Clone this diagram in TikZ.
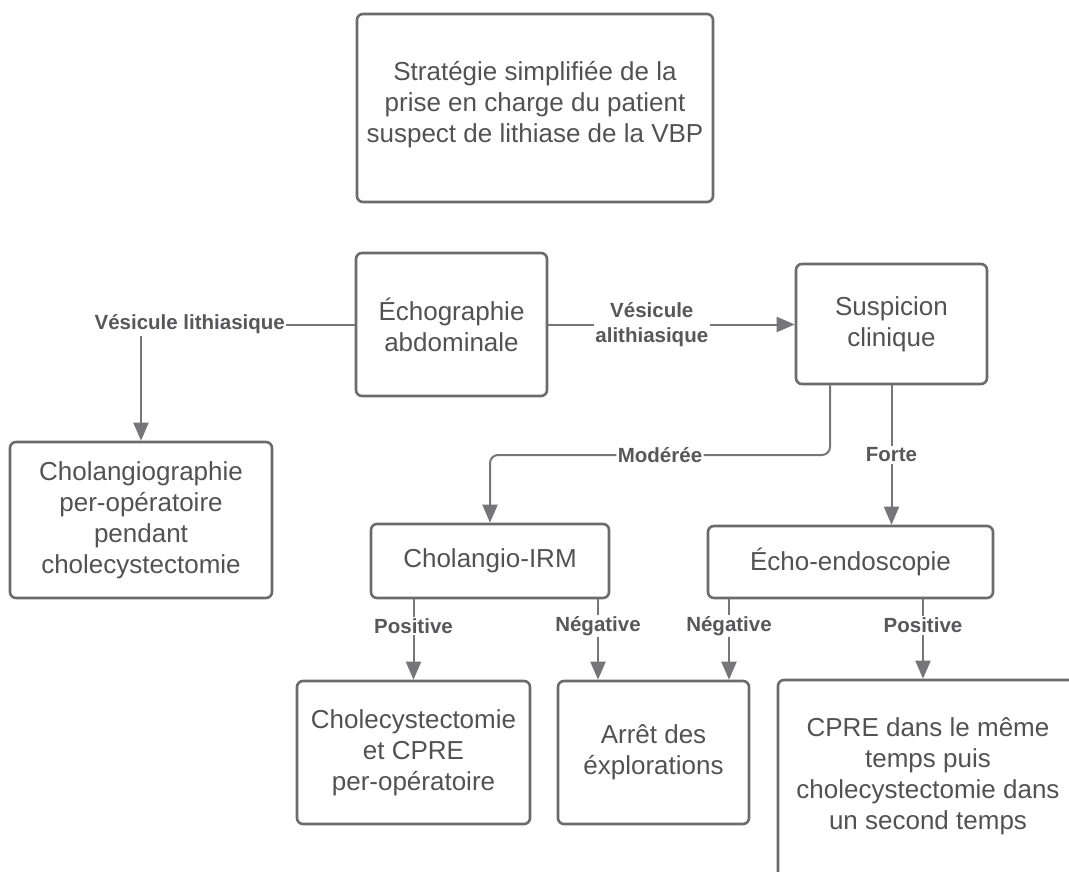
\documentclass[tikz,border=0pt]{standalone}
\usepackage{fontspec}
\setmainfont{Liberation Sans}
\usetikzlibrary{arrows.meta}
\definecolor{boxcol}{HTML}{6B6B6E}
\definecolor{linecol}{HTML}{76767A}
\definecolor{txtcol}{HTML}{525252}
\definecolor{lblcol}{HTML}{58585B}
\begin{document}
\begin{tikzpicture}[x=1pt,y=-1pt,
  box/.style={draw=boxcol, line width=2.6pt, rounded corners=6pt, align=center, inner sep=0pt, text=txtcol, font=\fontsize{26}{31}\selectfont},
  conn/.style={draw=linecol, line width=2pt},
  arr/.style={conn, -{Triangle[length=18pt,width=15pt]}},
  lbl/.style={fill=white, text=lblcol, font=\bfseries\fontsize{20.5}{25}\selectfont, inner sep=1.5pt, align=center}]
\useasboundingbox (0,0) rectangle (1069,872);
\clip (0,0) rectangle (1069,872);

\node[box, minimum width=356pt, minimum height=188pt, text depth=13pt] (title) at (535,108) {Stratégie simplifiée de la\\prise en charge du patient\\suspect de lithiase de la VBP};
\node[box, minimum width=191pt, minimum height=143pt] (echo) at (451.5,324.5) {Échographie\\abdominale};
\node[box, minimum width=191pt, minimum height=120pt] (susp) at (891.5,324) {Suspicion\\clinique};
\node[box, minimum width=262pt, minimum height=156pt] (cholgraph) at (141,520) {Cholangiographie\\per-opératoire\\pendant\\cholecystectomie};
\node[box, minimum width=238pt, minimum height=74pt] (irm) at (490,561) {Cholangio-IRM};
\node[box, minimum width=285pt, minimum height=72pt] (endo) at (850.5,562) {Écho-endoscopie};
\node[box, minimum width=233pt, minimum height=143pt] (chole) at (413.5,752.5) {Cholecystectomie\\et CPRE\\per-opératoire};
\node[box, minimum width=191pt, minimum height=143pt] (arret) at (653.5,752.5) {Arrêt des\\éxplorations};
\node[box, minimum width=300pt, minimum height=206pt, text depth=19pt] (cpre) at (928,783) {CPRE dans le même\\temps puis\\cholecystectomie dans\\un second temps};

\draw[arr] (echo.west) -| node[lbl,pos=0.386]{Vésicule lithiasique} (cholgraph.north);
\draw[arr] (echo.east) -- node[lbl,pos=0.42]{Vésicule\\alithiasique} (echo.east -| susp.west);

\coordinate (modY) at (0,455);
\coordinate (modS) at ([xshift=-61.5pt]susp.south);
\draw[arr, rounded corners=8pt] (modS) |- node[lbl,pos=0.75]{Modérée} (modY -| irm.north) -- (irm.north);
\draw[arr] (susp.south) -- node[lbl]{Forte} (susp.south |- endo.north);

\coordinate (n1) at ([xshift=-55.5pt]arret.north);
\coordinate (n2) at ([xshift=75.5pt]arret.north);
\coordinate (p2) at ([xshift=-5pt]cpre.north);
\draw[arr] (chole.north |- irm.south) -- node[lbl,pos=0.33]{Positive} (chole.north);
\draw[arr] (n1 |- irm.south) -- node[lbl,pos=0.33]{Négative} (n1);
\draw[arr] (n2 |- endo.south) -- node[lbl,pos=0.33]{Négative} (n2);
\draw[arr] (p2 |- endo.south) -- node[lbl,pos=0.33]{Positive} (p2);
\end{tikzpicture}
\end{document}
